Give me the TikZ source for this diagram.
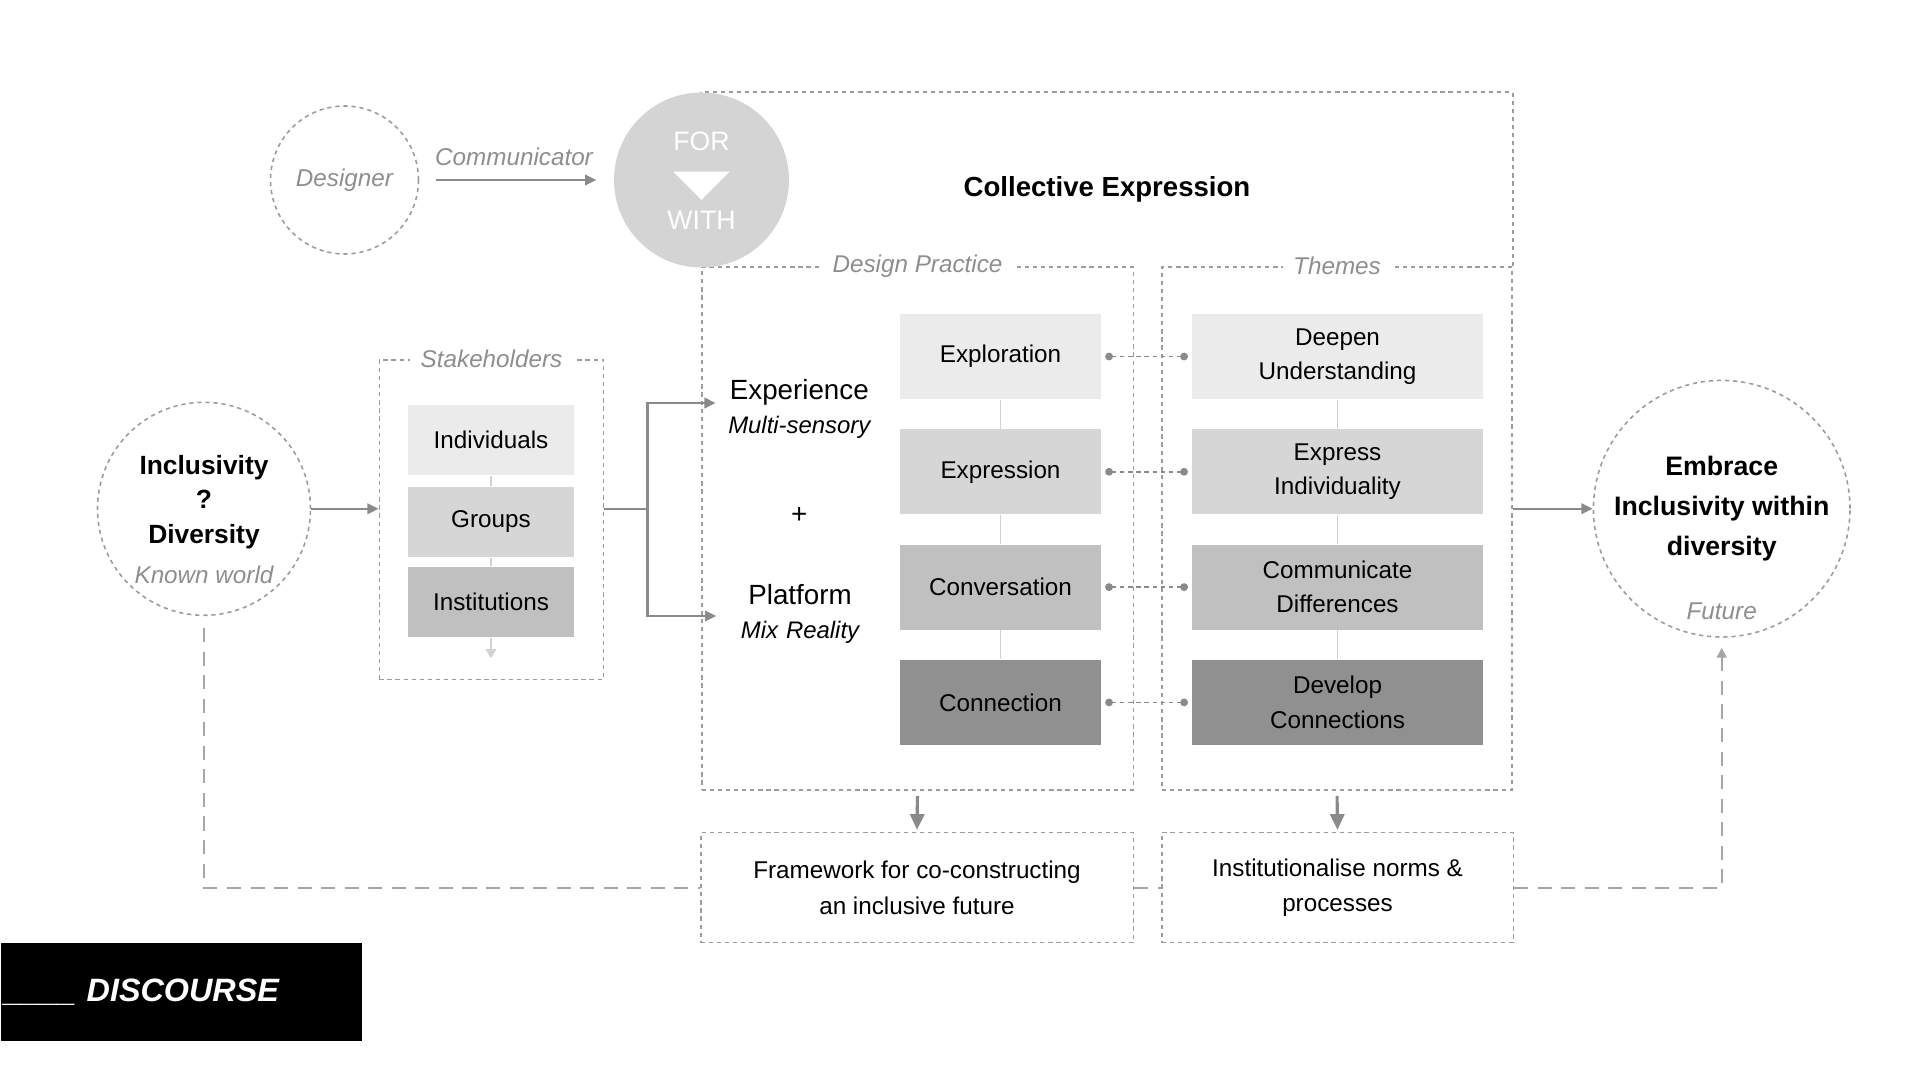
\documentclass[tikz,border=0pt]{standalone}
\usepackage{fontspec}
\setmainfont{Liberation Sans}
\usepackage{tikz}
\usetikzlibrary{arrows.meta,positioning}

\definecolor{linegray}{HTML}{9C9C9C}
\definecolor{lblgray}{HTML}{8E8E8E}
\definecolor{arrowgray}{HTML}{8A8A8A}
\definecolor{loopgray}{HTML}{A6A6A6}
\definecolor{linklight}{HTML}{D2D2D2}
\definecolor{shadeA}{HTML}{EBEBEB}
\definecolor{shadeB}{HTML}{D6D6D6}
\definecolor{shadeC}{HTML}{C0C0C0}
\definecolor{shadeD}{HTML}{909090}
\definecolor{forgray}{HTML}{D4D4D4}

\newcommand{\bigfont}{\fontsize{7.9pt}{10.6pt}\selectfont}
\newcommand{\subfont}{\fontsize{6.8pt}{10.6pt}\selectfont\itshape}

\begin{document}
\begin{tikzpicture}[font=\fontsize{6.9pt}{9.8pt}\selectfont,
    grpbox/.style={draw=linegray, line width=0.45pt, dash pattern=on 1.2pt off 1.1pt, inner sep=0},
    grplbl/.style={fill=white, text=lblgray, font=\fontsize{6.9pt}{8pt}\selectfont\itshape, inner xsep=3pt, inner ysep=1pt},
    ringnode/.style={circle, draw=linegray, line width=0.45pt, dash pattern=on 1.2pt off 1.1pt, inner sep=0, align=center},
    stepbox/.style={minimum width=2.01cm, minimum height=0.85cm, inner sep=0, align=center},
    themebox/.style={minimum width=2.917cm, minimum height=0.85cm, inner sep=0, align=center},
    stakebox/.style={minimum width=1.665cm, minimum height=0.70cm, inner sep=0},
    thinarrow/.style={draw=arrowgray, line width=0.6pt, -{Triangle[length=3.2pt,width=3pt]}},
    vlink/.style={draw=linklight, line width=0.5pt},
    dotlink/.style={draw=arrowgray, line width=0.45pt, dash pattern=on 1.2pt off 1.1pt,
        {Circle[length=2.2pt]}-{Circle[length=2.2pt]}, shorten <=0.035cm, shorten >=0.03cm},
    fatarrow/.style={draw=arrowgray, line width=0.9pt, -{Triangle[length=4.5pt,width=4pt]}},
    loopline/.style={draw=loopgray, line width=0.6pt, dash pattern=on 4pt off 2.7pt}]

\useasboundingbox (0,0) rectangle (19.2,-10.8);

% ===============================================================
% Top: designer -> for / with
% ===============================================================

\node[ringnode, minimum size=1.48cm, text=lblgray, font=\fontsize{6.9pt}{8pt}\selectfont\itshape] (designer) at (3.445,-1.80) {Designer};
\node[text=lblgray, font=\fontsize{6.9pt}{8pt}\selectfont\itshape] (commlbl) at (5.14,-1.565) {Communicator};

% outer dashed frame (collective expression)
\node[grpbox, minimum width=4.316cm, minimum height=5.23cm] (practice) at (9.175,-5.285) {};
\node[grpbox, minimum width=3.50cm, minimum height=5.23cm] (themes) at (13.37,-5.285) {};
\draw[grpbox] (practice.north west) -- ++(0,1.74) -| (themes.north east);

\node[grplbl] (practicelbl) at (practice.north) {Design Practice};
\node[grplbl] (themeslbl) at (themes.north) {Themes};

\node[circle, fill=forgray, minimum size=1.75cm, inner sep=0] (forwith) at (7.015,-1.80) {};
\node[text=white, font=\fontsize{7.6pt}{9pt}\selectfont] (forlbl) at (7.015,-1.417) {FOR};
\fill[white] (6.733,-1.717) -- (7.297,-1.717) -- (7.015,-2.0) -- cycle;
\node[text=white, font=\fontsize{7.6pt}{9pt}\selectfont] (withlbl) at (7.015,-2.20) {WITH};

\draw[thinarrow, shorten <=0.17cm, shorten >=0.17cm] (designer) -- (forwith);

\node[font=\fontsize{7.85pt}{9pt}\selectfont\bfseries] (colltitle) at (11.07,-1.89) {Collective Expression};

% ===============================================================
% Left: known world + stakeholders
% ===============================================================

\node[ringnode, minimum size=2.13cm] (incl) at (2.04,-5.088) {};
\node[align=center, font=\fontsize{7.5pt}{9.8pt}\selectfont\bfseries] (incltext) at (2.04,-5.02) {Inclusivity\\?\\Diversity};
\node[text=lblgray, font=\fontsize{6.9pt}{8pt}\selectfont\itshape] (knownlbl) at (2.04,-5.75) {Known world};

\node[grpbox, minimum width=2.244cm, minimum height=3.193cm] (stake) at (4.915,-5.197) {};
\node[grplbl] (stakelbl) at (stake.north) {Stakeholders};

\node[stakebox, fill=shadeA] (indiv) at (4.91,-4.40) {Individuals};
\node[stakebox, fill=shadeB] (groups) at (4.91,-5.22) {Groups};
\node[stakebox, fill=shadeC] (instit) at (4.91,-6.02) {Institutions};
\coordinate (stakeend) at (4.91,-6.583);

\draw[vlink] (indiv) -- (groups);
\draw[vlink] (groups) -- (instit);
\draw[draw=linklight, line width=0.5pt, -{Triangle[length=2.6pt,width=3pt]}] (instit) -- (stakeend);

\draw[thinarrow] (incl.east) -- (incl.east -| stake.west);

% ===============================================================
% Design practice
% ===============================================================

\node[text width=1.6cm, inner xsep=0.03cm, align=center] (exper) at (7.993,-4.09) {\bigfont Experience\\\subfont Multi-sensory};
\node (plus) at (7.993,-5.15) {\bigfont +};
\node[text width=1.6cm, inner xsep=0.03cm, align=center] (platf) at (8.0,-6.14) {\fontsize{7.9pt}{11pt}\selectfont Platform\\\fontsize{6.8pt}{11pt}\selectfont\itshape Mix Reality};

\draw[thinarrow] (stake.east |- incl) -- ++(0.43,0) |- ([yshift=0.06cm]exper.west);
\draw[thinarrow] (stake.east |- incl) -- ++(0.43,0) |- ([yshift=-0.02cm]platf.west);

\node[stepbox, fill=shadeA] (explor) at (10.005,-3.565) {Exploration};
\node[stepbox, fill=shadeB] (expres) at (10.005,-4.718) {Expression};
\node[stepbox, fill=shadeC] (conver) at (10.005,-5.871) {Conversation};
\node[stepbox, fill=shadeD] (connec) at (10.005,-7.024) {Connection};

\draw[vlink] (explor) -- (expres);
\draw[vlink] (expres) -- (conver);
\draw[vlink] (conver) -- (connec);

% ===============================================================
% Themes
% ===============================================================

\node[themebox, fill=shadeA] (deepen) at (13.375,-3.565) {Deepen\\Understanding};
\node[themebox, fill=shadeB] (indivi) at (13.375,-4.718) {Express\\Individuality};
\node[themebox, fill=shadeC] (differ) at (13.375,-5.871) {Communicate\\Differences};
\node[themebox, fill=shadeD] (develop) at (13.375,-7.024) {Develop\\Connections};

\draw[vlink] (deepen) -- (indivi);
\draw[vlink] (indivi) -- (differ);
\draw[vlink] (differ) -- (develop);

\draw[dotlink] (explor.east) -- (deepen.west);
\draw[dotlink] (expres.east) -- (indivi.west);
\draw[dotlink] (conver.east) -- (differ.west);
\draw[dotlink] (connec.east) -- (develop.west);

% ===============================================================
% Right: future
% ===============================================================

\node[ringnode, minimum size=2.566cm, font=\fontsize{7.6pt}{11.4pt}\selectfont\bfseries] (embrace) at (17.217,-5.087) {Embrace\\Inclusivity within\\diversity};
\node[text=lblgray, font=\fontsize{6.9pt}{8pt}\selectfont\itshape] (futurelbl) at (17.217,-6.117) {Future};

\draw[thinarrow] (embrace.west -| themes.east) -- (embrace.west);

% ===============================================================
% Bottom: outcomes + loop
% ===============================================================

\node[grpbox, minimum width=4.326cm, minimum height=1.10cm, align=center, font=\fontsize{6.9pt}{10.2pt}\selectfont] (frame) at (9.17,-8.877) {Framework for co-constructing\\an inclusive future};
\node[grpbox, minimum width=3.516cm, minimum height=1.10cm, align=center, font=\fontsize{6.9pt}{10.2pt}\selectfont] (inst) at (13.375,-8.877) {Institutionalise norms \&\\processes};

\draw[fatarrow, shorten <=0.05cm, shorten >=0.02cm] (practice.south) -- (frame.north);
\draw[fatarrow, shorten <=0.05cm, shorten >=0.02cm] (themes.south) -- (inst.north);

\draw[loopline, shorten <=0.12cm] (incl.south) |- (frame.west);
\draw[loopline] (frame.east) -- (inst.west);
\draw[loopline, -{Triangle[length=2.8pt,width=2.8pt]}, shorten >=0.1cm] (inst.east) -| (embrace.south);

% discourse tag
\node[fill=black, text=white, anchor=west, minimum height=0.974cm, text width=3.55cm, inner xsep=0.033cm, align=left,
      font=\fontsize{9.2pt}{11pt}\selectfont\bfseries\itshape] (discourse) at (0,-9.92) {\_\_\_\_ DISCOURSE};

\end{tikzpicture}
\end{document}
